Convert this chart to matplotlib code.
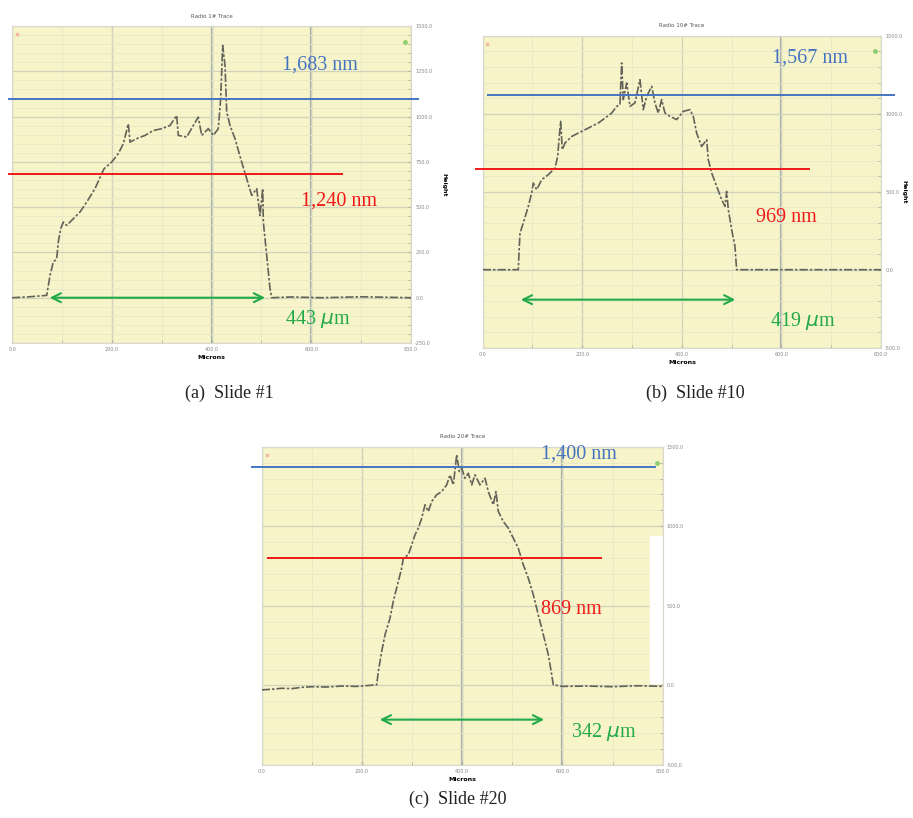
import matplotlib.pyplot as plt
from matplotlib.patches import Rectangle
from matplotlib.ticker import MultipleLocator

a_x = [0, 30, 69.6, 76.2, 82.8, 89.6, 92.8, 97.6, 102.9, 109.7, 122.9, 136.3, 149.8,
       166.4, 184.5, 199.9, 213.1, 223.2, 233.2, 236.6, 250, 266.7, 283.3, 300.1,
       316.8, 330.2, 333.4, 350.3, 363.5, 373.5, 380.3, 393.6, 403.6, 413.6, 418.4,
       422.4, 427.1, 430.5, 437.1, 447.1, 460.5, 470.6, 480.6, 490.6, 497.2, 502.7,
       503.9, 510.7, 517.3, 520.7, 560, 620, 700, 800]
a_y = [0, 4, 13, 123, 197, 215, 307, 381, 418, 399, 436, 473, 528,
       602, 712, 749, 795, 850, 960, 859, 878, 896, 923, 933,
       951, 1006, 896, 887, 951, 997, 896, 933, 896, 933, 1098,
       1393, 1282, 1025, 951, 878, 749, 657, 565, 602, 454, 602,
       418, 233, 50, 0, 4, 0, 5, 0]

b_x = [0, 40, 71.5, 72.9, 74.9, 81.5, 91.6, 98.4, 101.6, 108.4, 118.5, 131.7, 145.2,
       150.6, 153.8, 156.6, 159.8, 165.3, 178.7, 192, 205.4, 218.9, 232.1, 245.6,
       259, 269.1, 275.7, 279.1, 282.3, 289.2, 295.8, 305.8, 315.9, 322.5, 329.3,
       339.4, 346, 352.6, 359.4, 366.1, 376.1, 389.6, 402.8, 416.3, 422.9, 429.7,
       439.7, 449.8, 453.1, 459.9, 470, 480, 486.6, 490, 493.3, 500.1, 506.7, 510,
       600, 700, 800]
b_y = [0, 0, 0, 107, 235, 299, 406, 492, 556, 513, 577, 609, 652,
       726, 854, 951, 769, 812, 854, 876, 897, 919, 940, 972,
       1004, 1047, 1058, 1325, 1090, 1197, 1047, 1069, 1218, 1026, 1111,
       1175, 1069, 1004, 1090, 1004, 983, 962, 1015, 1026, 983, 876,
       790, 833, 705, 620, 534, 449, 406, 502, 385, 256, 149, 0,
       0, 0, 0]

c_x = [0, 20, 40, 60, 80, 100, 130, 160, 190, 229.4, 232.6, 239.4, 246, 256, 262.5,
       272.5, 279.3, 282.5, 292.5, 299.3, 305.8, 312.4, 319.2, 325.8, 332.4, 339.2,
       349.1, 359.1, 369.1, 375.7, 382.3, 389, 394.2, 399, 405.6, 412.2, 419, 425.5,
       435.5, 445.5, 452.1, 462, 467.4, 472, 482, 492, 502, 511.9, 521.9, 531.9,
       541.8, 551.8, 558.6, 565.2, 571.8, 578.6, 581.7, 600, 650, 700, 750, 800]
c_y = [-28, -24, -18, -20, -12, -8, -10, -4, -6, 4, 88, 214, 318, 423, 528,
       653, 737, 800, 821, 884, 946, 988, 1051, 1135, 1093, 1156,
       1198, 1218, 1260, 1323, 1260, 1449, 1344, 1365, 1302, 1333, 1260, 1323,
       1260, 1302, 1218, 1135, 1218, 1093, 1030, 988, 925, 862, 758, 674,
       570, 444, 360, 276, 193, 67, 4, -6, -4, -8, -2, -6]

# lineas de referencia: (valor y, x inicio, x fin) y texto de cada medida
a_azul, a_rojo, a_verde = (1098, -6, 814), (684, -6, 662), (0, 70, 513)
b_azul, b_rojo, b_verde = (1117, 11, 826), (643, -14, 655), (-192, 71, 513)
c_azul, c_rojo, c_verde = (1371, -20, 785), (799, 13, 676), (-215, 230, 569)

a_textos = [('1,683 nm', 617, 1286), ('1,240 nm', 656, 535), ('443 $\\mu$m', 612, -116)]
b_textos = [('1,567 nm', 657, 1359), ('969 nm', 609, 333), ('419 $\\mu$m', 643, -327)]
c_textos = [('1,400 nm', 633, 1453), ('869 nm', 617, 477), ('342 $\\mu$m', 683, -295)]

titulos = ['Radio 1# Trace', 'Radio 10# Trace', 'Radio 20# Trace']
leyendas = ['(a)  Slide #1', '(b)  Slide #10', '(c)  Slide #20']

AMARILLO = '#f6f4c8'
AZUL = '#4674c0'
ROJO = '#f01818'
VERDE = '#22aa48'
GRIS = '#626258'

fig = plt.figure(figsize=(9.13, 8.18), dpi=100)


def panel(pos, x, y, ylim, paso, azul, rojo, verde, textos, titulo,
          oscuras, ylabel_pad=None):
    ax = fig.add_axes(pos)
    ax.set_facecolor(AMARILLO)
    ax.set_xlim(0, 800)
    ax.set_ylim(*ylim)
    ax.xaxis.set_major_locator(MultipleLocator(200))
    ax.xaxis.set_minor_locator(MultipleLocator(100))
    ax.yaxis.set_major_locator(MultipleLocator(paso))
    ax.yaxis.set_minor_locator(MultipleLocator(paso / 5))
    ax.grid(which='minor', color='#e8e7c9', lw=0.6)
    ax.grid(which='major', color='#d2d3bf', lw=0.9)
    for xv in oscuras:
        ax.axvline(xv, color='#a3acae', lw=1.6, zorder=1)
    ax.axvline(200, color='#cfd0bc', lw=1.0, ls=(0, (3, 2)), zorder=1)
    ax.yaxis.tick_right()
    ax.tick_params(which='both', direction='in', length=2, color='#b0b0a0',
                   labelsize=3.5, labelcolor='#888888', pad=3)
    ax.set_xticks(range(0, 801, 200))
    ax.set_xticklabels([f'{v:.1f}' for v in range(0, 801, 200)])
    ax.set_yticklabels([f'{v:.1f}' for v in ax.get_yticks()])
    for s in ax.spines.values():
        s.set_color('#d8d8cc')
        s.set_linewidth(0.8)
    ax.set_title(titulo, fontsize=4, color='#555555', pad=6)
    ax.set_xlabel('Microns', fontsize=4.5, fontweight='bold', labelpad=2)
    if ylabel_pad is not None:
        ax.yaxis.set_label_position('right')
        ax.set_ylabel('Height', fontsize=4.5, fontweight='bold',
                      rotation=270, labelpad=ylabel_pad)

    # perfil medido
    ax.plot(x, y, color=GRIS, lw=1.2, ls=(0, (5, 1.2, 1.5, 1.2)), zorder=3)

    # marcas de la captura
    ax.plot(0.012, 0.975, 's', ms=2, color='#f5b8a0', transform=ax.transAxes)
    ax.plot(0.985, 0.95, 'o', ms=2.5, color='#8ccf70', transform=ax.transAxes)

    ax.plot([azul[1], azul[2]], [azul[0]] * 2, color=AZUL, lw=1.4,
            clip_on=False, zorder=4)
    ax.plot([rojo[1], rojo[2]], [rojo[0]] * 2, color=ROJO, lw=1.4,
            clip_on=False, zorder=4)
    ax.annotate('', xy=(verde[2], verde[0]), xytext=(verde[1], verde[0]),
                arrowprops=dict(arrowstyle='<->', color=VERDE, lw=1.5,
                                mutation_scale=16), zorder=4)
    for (t, tx, ty), col in zip(textos, [AZUL, ROJO, VERDE]):
        ax.text(tx, ty, t, color=col, fontsize=14.5, ha='center', va='center',
                family='Liberation Serif', clip_on=False, zorder=5)
    return ax


ax_a = panel([12 / 913, 1 - 343 / 818, 399 / 913, 317 / 818], a_x, a_y,
             (-250, 1500), 250, a_azul, a_rojo, a_verde, a_textos, titulos[0],
             [400, 600], ylabel_pad=10)
ax_b = panel([482.7 / 913, 1 - 347.7 / 818, 398.3 / 913, 312 / 818], b_x, b_y,
             (-500, 1500), 500, b_azul, b_rojo, b_verde, b_textos, titulos[1],
             [600], ylabel_pad=3)
ax_c = panel([261.7 / 913, 1 - 765 / 818, 401 / 913, 318.3 / 818], c_x, c_y,
             (-500, 1500), 500, c_azul, c_rojo, c_verde, c_textos, titulos[2],
             [400, 600])
# parche blanco que tapa el borde derecho en la captura (c)
ax_c.add_patch(Rectangle((775, 13), 25, 923, color='white', zorder=2))

for t, xf, yf in zip(leyendas, [229 / 913, 695 / 913, 458 / 913],
                     [1 - 393 / 818, 1 - 393 / 818, 1 - 799 / 818]):
    fig.text(xf, yf, t, ha='center', va='center', fontsize=13,
             family='Liberation Serif', color='#222222')

plt.savefig('out.png', dpi=100)
